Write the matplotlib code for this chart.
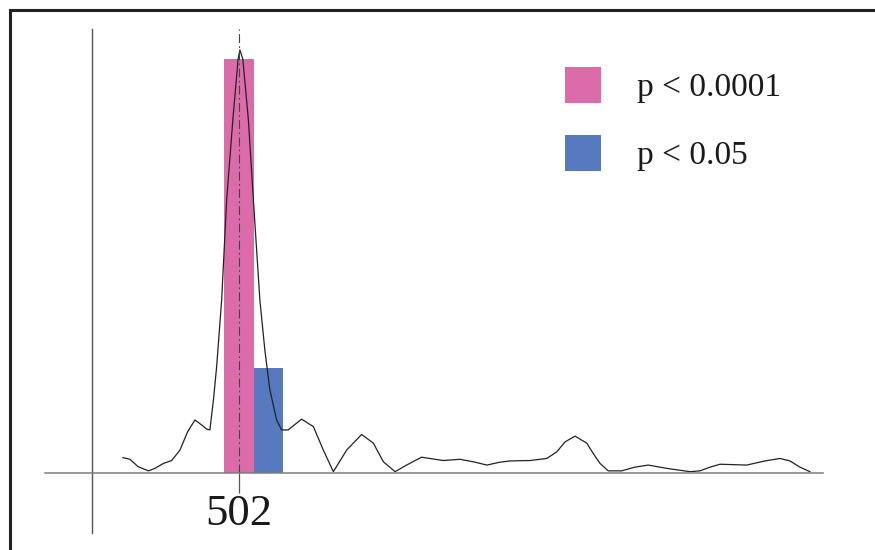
import matplotlib
matplotlib.use("Agg")
import matplotlib.pyplot as plt
from matplotlib.lines import Line2D
from matplotlib.patches import Patch

plt.rcParams['font.family'] = ['Liberation Serif', 'DejaVu Serif']

# ---- data ----
bar_pos = [502, 503]
bar_vals = [1.0, 0.252]
bar_colors = ['#DC6BA9', '#5679BF']
legend_labels = ['p < 0.0001', 'p < 0.05']
tick_pos = [502]
tick_labels = ['502']

curve_x = [498.05, 498.29, 498.57, 498.92, 499.14, 499.43, 499.71, 499.99, 500.25, 500.50,
           500.73, 500.90, 501.01, 501.13, 501.24, 501.41, 501.58, 501.79, 501.97,
           502.03, 502.13, 502.32, 502.49, 502.71, 502.88, 503.05, 503.28,
           503.45, 503.67, 504.13, 504.53, 504.87, 505.21, 505.66, 506.17, 506.57,
           506.91, 507.31, 507.70, 508.21, 508.95, 509.52, 510.03, 510.43, 510.88, 511.22, 511.90,
           512.47, 512.81, 513.09, 513.43, 513.83, 514.04, 514.28, 514.56, 515.02, 515.47,
           515.92, 516.55, 517.34, 517.68, 518.02, 518.36, 519.27, 519.89, 520.40, 520.74,
           521.08, 521.42]
curve_y = [0.036, 0.032, 0.014, 0.004, 0.010, 0.022, 0.029, 0.054, 0.098, 0.127,
           0.115, 0.105, 0.103, 0.175, 0.256, 0.417, 0.659, 0.852, 1.000,
           1.022, 1.000, 0.852, 0.659, 0.417, 0.296, 0.200, 0.127,
           0.103, 0.103, 0.129, 0.111, 0.054, 0.002, 0.054, 0.092, 0.071,
           0.026, 0.002, 0.018, 0.037, 0.029, 0.032, 0.025, 0.018, 0.025, 0.028, 0.029,
           0.034, 0.050, 0.074, 0.088, 0.071, 0.047, 0.022, 0.004, 0.004, 0.013,
           0.018, 0.010, 0.002, 0.004, 0.013, 0.020, 0.018, 0.028, 0.034, 0.028,
           0.013, 0.002]

# ---- figure ----
fig = plt.figure(figsize=(8.75, 5.5), dpi=100)
ax = fig.add_axes([0, 0, 1, 1])
ax.set_facecolor('white')
ax.set_xlim(493.871, 523.633)
ax.set_ylim(-0.1874, 1.1427)

ax.bar(bar_pos, bar_vals, width=1.0, color=bar_colors, zorder=2)
ax.plot(curve_x, curve_y, color='#222222', lw=0.9, zorder=3,
        solid_joinstyle='round', antialiased=True)
ax.plot([502, 502], [0, 1.0726], color='#444444', lw=0.8,
        linestyle=(0, (8, 3, 1.5, 3)), zorder=4)

# axes styling
for s in ['top', 'right']:
    ax.spines[s].set_visible(False)
ax.spines['left'].set_position(('data', 497.0))
ax.spines['left'].set_bounds(-0.146, 1.0726)
ax.spines['left'].set_color('#555555')
ax.spines['left'].set_linewidth(1.0)
ax.spines['bottom'].set_position(('data', 0))
ax.spines['bottom'].set_bounds(495.40, 521.86)
ax.spines['bottom'].set_color('#808080')
ax.spines['bottom'].set_linewidth(1.1)
ax.spines['bottom'].set_zorder(5)
ax.set_yticks([])
ax.set_xticks(tick_pos)
ax.set_xticklabels(tick_labels, fontsize=32, color='#1a1a1a')
ax.tick_params(axis='x', direction='out', length=14.4, width=0.9, color='#555555', pad=1)

handles = [Patch(facecolor=c, edgecolor='none') for c in bar_colors]
ax.legend(handles, legend_labels, loc='upper left',
          bbox_to_anchor=(565/875, 1 - 67/550),
          frameon=False, fontsize=24, handlelength=1.08, handleheight=1.283,
          handletextpad=1.08, labelspacing=0.96, borderpad=0, borderaxespad=0,
          labelcolor='#1a1a1a')

# outer frame (top and left edges visible)
fig.add_artist(Line2D([10/875, 10/875], [0, 1 - 10/550], color='#222222', lw=2.2,
                      transform=fig.transFigure))
fig.add_artist(Line2D([10/875, 1], [1 - 10/550, 1 - 10/550], color='#222222', lw=2.2,
                      transform=fig.transFigure))

fig.savefig('out.png', dpi=100)
